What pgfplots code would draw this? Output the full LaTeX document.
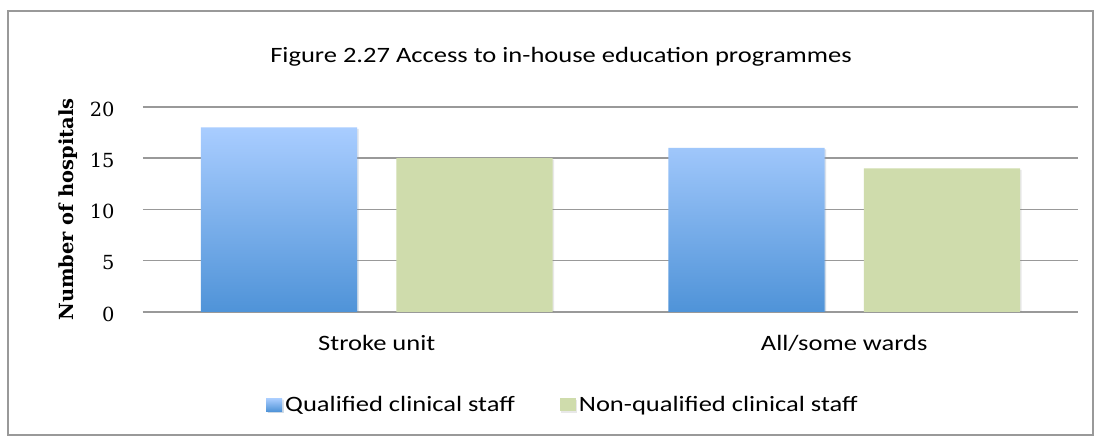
\documentclass[border=0pt]{standalone}
\usepackage{pgfplots}
\pgfplotsset{compat=1.18}
\usetikzlibrary{shadows}
\usepackage{fontspec}
\setmainfont[FakeStretch=1.21]{Carlito}
\newfontfamily\serif{DejaVu Serif}
\definecolor{bluetop}{HTML}{A9CDFF}
\definecolor{bluebot}{HTML}{4F93D8}
\definecolor{grn}{HTML}{CFDCAC}
\definecolor{gridc}{HTML}{999999}
\begin{document}
\begin{tikzpicture}[x=1bp,y=1bp]
\fill[white] (-143,-134) rectangle (958,312);
\draw[gridc, line width=1.2bp] (-135,-123) rectangle (950,301);
\begin{axis}[
  at={(0,0)}, anchor=south west,
  scale only axis, width=935bp, height=205bp,
  xmin=-0.5, xmax=1.5, ymin=0, ymax=20,
  ytick={0,5,10,15,20},
  xtick={0,1}, xticklabels={Stroke unit, All/some wards},
  axis x line*=bottom, axis y line*=left,
  x axis line style={gridc, line width=2.5bp},
  y axis line style={draw=none},
  major tick length=0pt,
  ymajorgrids, grid style={gridc, line width=1.5bp},
  xticklabel style={font=\fontsize{22}{22}\selectfont, yshift=-20bp},
  yticklabel style={font=\fontsize{19.5}{19.5}\serif, xshift=-25bp, yshift=-2bp},
  /pgf/number format/assume math mode=true,
  ybar, bar width=0.334,
  legend columns=2,
  legend style={draw=none, fill=none, at={(420.5bp,-93bp)}, anchor=center, font=\fontsize{22}{22}\selectfont,
    nodes={inner sep=3bp},
    /tikz/every even column/.append style={column sep=42bp}},
  legend image code/.code={\fill[#1] (0bp,-6.5bp) rectangle (16bp,6.5bp);},
]
\addplot[bar shift=-0.209, draw=none, top color=bluetop, bottom color=bluebot,
  drop shadow={shadow xshift=1.5bp, shadow yshift=-1.5bp, opacity=0.18}] coordinates {(0,18) (1,16)};
\addplot[bar shift=0.209, draw=none, fill=grn,
  drop shadow={shadow xshift=1.5bp, shadow yshift=-1.5bp, opacity=0.18}] coordinates {(0,15) (1,14)};
\legend{Qualified clinical staff, Non-qualified clinical staff}
\end{axis}
\node[font=\fontsize{19.5}{19.5}\serif\bfseries, rotate=90] at (-75,102.5) {Number of hospitals};
\node[font=\fontsize{22}{22}\selectfont] at (418,255) {Figure 2.27 Access to in-house education programmes};
\end{tikzpicture}
\end{document}
